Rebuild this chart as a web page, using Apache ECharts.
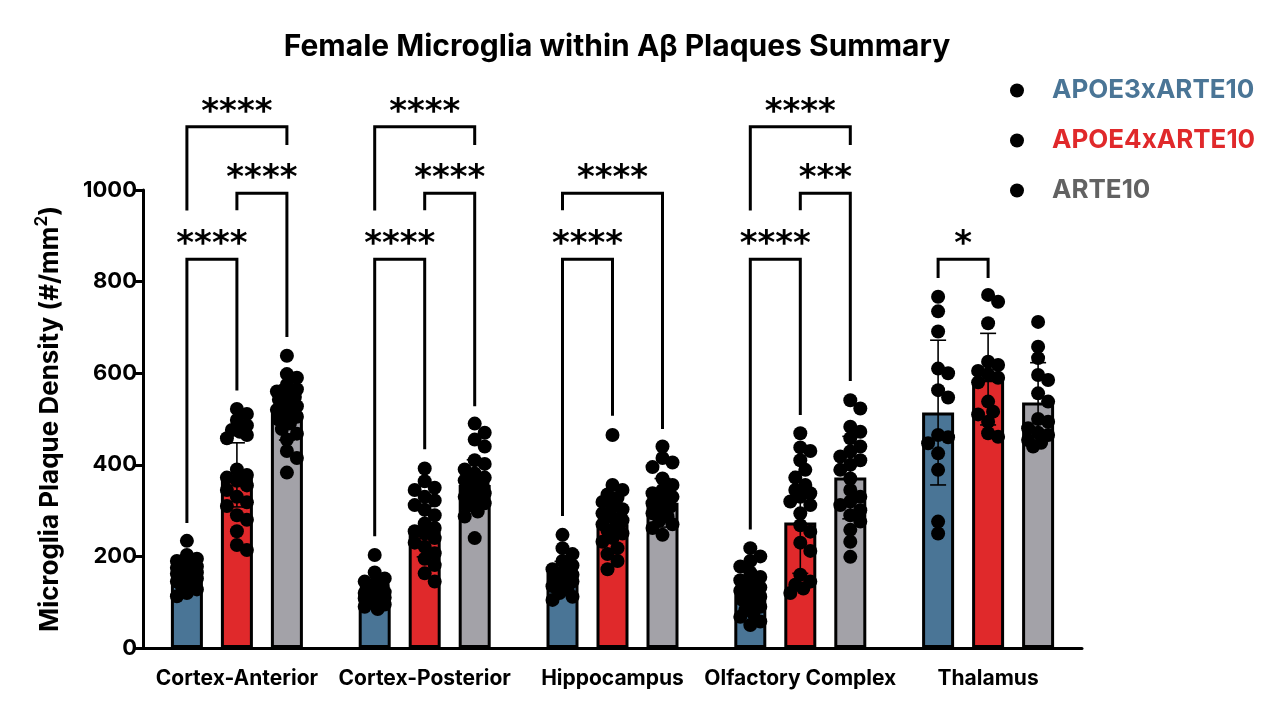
<!DOCTYPE html>
<html><head><meta charset="utf-8">
<script src="https://cdn.jsdelivr.net/npm/echarts@6/dist/echarts.min.js"></script>
<style>html,body{margin:0;padding:0;background:#fff}#c{width:1280px;height:713px}</style>
</head><body><div id="c"></div>
<script>
// ---------------- DATA ----------------
const categories = ['Cortex-Anterior', 'Cortex-Posterior', 'Hippocampus', 'Olfactory Complex', 'Thalamus'];
const seriesNames = ['APOE3xARTE10', 'APOE4xARTE10', 'ARTE10'];
const yTickValues = [0, 200, 400, 600, 800, 1000];

const apoe3Mean = [159, 125, 164, 121, 514];
const apoe4Mean = [378, 254, 270, 274, 587];
const arte10Mean = [514, 356, 317, 372, 536];

const apoe3SD = [30, 25, 25, 45, 158];
const apoe4SD = [70, 55, 55, 111, 100];
const arte10SD = [60, 55, 53, 90, 87];

const apoe3Dots = [
  [234, 203, 195, 190, 186, 182, 178, 175, 172, 168, 165, 162, 160, 156, 152, 148, 145, 140, 135, 128, 120, 113],
  [203, 165, 152, 145, 140, 135, 130, 128, 125, 122, 120, 118, 115, 112, 110, 108, 105, 100, 95, 90, 85],
  [247, 218, 205, 190, 180, 172, 165, 160, 155, 150, 145, 140, 135, 128, 120, 112, 105],
  [218, 200, 190, 178, 165, 155, 148, 140, 132, 125, 118, 112, 105, 98, 90, 83, 75, 68, 58, 50],
  [767, 735, 691, 610, 600, 563, 547, 465, 460, 447, 425, 389, 276, 250]
];
const apoe4Dots = [
  [522, 511, 498, 486, 476, 472, 465, 458, 390, 378, 372, 365, 355, 345, 330, 318, 310, 290, 280, 255, 225, 214],
  [392, 364, 350, 345, 330, 322, 312, 302, 290, 272, 262, 255, 250, 240, 230, 221, 207, 195, 181, 163, 145],
  [465, 356, 345, 335, 328, 319, 310, 303, 294, 285, 279, 270, 265, 256, 250, 240, 232, 218, 205, 190, 172],
  [469, 438, 430, 410, 389, 372, 356, 345, 338, 330, 320, 312, 294, 268, 254, 230, 212, 160, 145, 138, 130, 120],
  [771, 756, 709, 625, 618, 605, 598, 590, 580, 538, 516, 510, 494, 469, 461]
];
const arte10Dots = [
  [638, 598, 590, 575, 565, 560, 555, 548, 542, 535, 528, 520, 512, 505, 498, 490, 478, 468, 455, 430, 415, 383],
  [490, 470, 455, 440, 410, 402, 390, 381, 372, 366, 360, 355, 350, 345, 338, 330, 323, 316, 309, 298, 287, 240],
  [440, 415, 405, 395, 370, 356, 345, 338, 330, 323, 316, 309, 302, 294, 287, 279, 270, 262, 247],
  [541, 523, 483, 472, 458, 440, 429, 418, 410, 400, 389, 370, 345, 330, 320, 312, 301, 290, 276, 258, 232, 199],
  [712, 658, 633, 596, 585, 556, 538, 500, 494, 480, 470, 465, 454, 448, 440]
];

// significance brackets: [category, fromGroup, toGroup, level, fromLegBottom, toLegBottom]
const brackets = [
  [0, 0, 1, 849, 273, 562], [0, 1, 2, 993, 956, 679], [0, 0, 2, 1138, 955, 1098],
  [1, 0, 1, 849, 244, 434], [1, 1, 2, 993, 956, 528], [1, 0, 2, 1138, 955, 1098],
  [2, 0, 1, 849, 288, 507], [2, 0, 2, 993, 956, 478],
  [3, 0, 1, 849, 259, 509], [3, 1, 2, 993, 956, 583], [3, 0, 2, 1138, 955, 1098],
  [4, 0, 1, 849, 808, 808]
];
const bracketLabels = ['****', '****', '****', '****', '****', '****', '****', '****', '****', '***', '****', '*'];

// ---------------- STYLE / LAYOUT ----------------
const barColors = ['#4a7596', '#e0292b', '#a3a2a8'];
const legendColors = ['#4a7596', '#e0292b', '#626262'];
const FONT = 'Inter';
const GRID = { left: 143, top: 190, width: 939, height: 458 };
const BAR_W = 32, BAR_GAP_PX = 18;
const BAR_STEP = BAR_W + BAR_GAP_PX;
const DOT_D = 14;

const means = [apoe3Mean, apoe4Mean, arte10Mean];
const sds = [apoe3SD, apoe4SD, arte10SD];
const dots = [apoe3Dots, apoe4Dots, arte10Dots];

// beeswarm offsets (pixels) computed from values
function swarm(vals) {
  const pxPerUnit = GRID.height / 1000;
  const placed = [];
  const out = new Array(vals.length).fill(0);
  const order = vals.map((v, i) => i).sort((a, b) => vals[b] - vals[a]);
  const cands = [0, 5, -5, 10, -10, 3, -3, 8, -8];
  for (const i of order) {
    const y = vals[i] * pxPerUnit;
    let best = 0, bestScore = -1;
    for (const off of cands) {
      let mind = Infinity;
      for (const p of placed) {
        const d = Math.hypot(p[0] - off, p[1] - y);
        if (d < mind) mind = d;
      }
      if (mind >= DOT_D * 0.75) { best = off; break; }
      if (mind > bestScore) { bestScore = mind; best = off; }
    }
    placed.push([best, y]);
    out[i] = best;
  }
  return out;
}

const dotData = [];
for (let s = 0; s < 3; s++) {
  for (let c = 0; c < categories.length; c++) {
    const vals = dots[s][c];
    const j = swarm(vals);
    vals.forEach((v, k) => dotData.push([c, s, v, j[k]]));
  }
}
const errData = [];
for (let s = 0; s < 3; s++) for (let c = 0; c < categories.length; c++) errData.push([c, s, means[s][c], sds[s][c]]);

const chart = echarts.init(document.getElementById('c'), null, { renderer: 'canvas' });

const barSeries = seriesNames.map((name, s) => ({
  name, type: 'bar', data: means[s], barWidth: BAR_W, barGap: (BAR_GAP_PX / BAR_W * 100) + '%',
  itemStyle: { color: barColors[s], borderColor: '#000', borderWidth: 3 },
  z: 2, silent: true
}));

const option = {
  animation: false,
  backgroundColor: '#fff',
  title: {
    text: 'Female Microglia within A\u03B2 Plaques Summary',
    left: 612, top: 27, textAlign: 'center',
    textStyle: { fontFamily: FONT, fontWeight: 'bold', fontSize: 30, color: '#000' }
  },
  legend: {
    orient: 'vertical', left: 1005, top: 72, itemGap: 23, icon: 'circle',
    itemWidth: 60, itemHeight: 14,
    itemStyle: { borderWidth: 0 },
    data: seriesNames.map((n, s) => ({ name: n, itemStyle: { color: '#000', borderWidth: 0 }, textStyle: { color: legendColors[s] } })),
    textStyle: { fontFamily: FONT, fontWeight: 'bold', fontSize: 26, lineHeight: 27 },
    selectedMode: false
  },
  grid: GRID,
  xAxis: {
    type: 'category', data: categories,
    axisLine: { lineStyle: { color: '#000', width: 3 } },
    axisTick: { alignWithLabel: true, length: 9, lineStyle: { color: '#000', width: 3 } },
    axisLabel: { interval: 0, fontFamily: FONT, fontWeight: 'bold', fontSize: 21, color: '#000', margin: 20 }
  },
  yAxis: {
    type: 'value', min: 0, max: 1000, interval: 200,
    name: '{t|Microglia Plaque Density (#/mm}{sup|2}{t|)}', nameLocation: 'middle', nameGap: 80,
    nameTextStyle: {
      fontFamily: FONT, fontWeight: 'bold', fontSize: 26, color: '#000',
      rich: {
        t: { fontFamily: FONT, fontWeight: 'bold', fontSize: 26, color: '#000', lineHeight: 30, verticalAlign: 'bottom' },
        sup: { fontFamily: FONT, fontWeight: 'bold', fontSize: 17, color: '#000', lineHeight: 30, verticalAlign: 'top', padding: [0, 0, 10, 0] }
      }
    },
    axisLine: { show: true, lineStyle: { color: '#000', width: 3 } },
    axisTick: { show: true, length: 9, lineStyle: { color: '#000', width: 3 } },
    axisLabel: { fontFamily: FONT, fontWeight: 'bold', fontSize: 22, color: '#000', margin: 6,
      formatter: v => yTickValues.includes(v) ? String(v) : '' },
    splitLine: { show: false }
  },
  series: [
    ...barSeries,
    {
      type: 'custom', name: 'err', data: errData, z: 3, silent: true,
      renderItem(params, api) {
        const c = api.value(0), s = api.value(1), m = api.value(2), sd = api.value(3);
        const x = api.coord([c, m])[0] + (s - 1) * BAR_STEP;
        const yt = api.coord([c, m + sd])[1];
        const yb = api.coord([c, Math.max(0, m - sd)])[1];
        const st = { stroke: '#000', lineWidth: 1.6, fill: 'none' };
        return { type: 'group', children: [
          { type: 'line', shape: { x1: x, y1: yt, x2: x, y2: yb }, style: st },
          { type: 'line', shape: { x1: x - 8, y1: yt, x2: x + 8, y2: yt }, style: st },
          { type: 'line', shape: { x1: x - 8, y1: yb, x2: x + 8, y2: yb }, style: st }
        ] };
      }
    },
    {
      type: 'custom', name: 'dots', data: dotData, z: 4, silent: true,
      renderItem(params, api) {
        const c = api.value(0), s = api.value(1), v = api.value(2), j = api.value(3);
        const p = api.coord([c, v]);
        return { type: 'circle', shape: { cx: p[0] + (s - 1) * BAR_STEP + j, cy: p[1], r: DOT_D / 2 }, style: { fill: '#000' } };
      }
    },
    {
      type: 'custom', name: 'sig', data: brackets, z: 5, silent: true, clip: false,
      renderItem(params, api) {
        const c = api.value(0), a = api.value(1), b = api.value(2), lv = api.value(3), ba = api.value(4), bb = api.value(5);
        const cx = api.coord([c, lv])[0];
        const xa = cx + (a - 1) * BAR_STEP, xb = cx + (b - 1) * BAR_STEP;
        const y = api.coord([c, lv])[1];
        const ya = api.coord([c, ba])[1], yb = api.coord([c, bb])[1];
        const st = { stroke: '#000', lineWidth: 3, lineJoin: 'miter', fill: 'none' };
        return { type: 'group', children: [
          { type: 'polyline', shape: { points: [[xa, ya], [xa, y], [xb, y], [xb, yb]] }, style: st },
          { type: 'text', style: { text: bracketLabels[params.dataIndex], x: (xa + xb) / 2, y: y + 3,
            align: 'center', verticalAlign: 'bottom', fill: '#000',
            font: 'bold 34px "DejaVu Sans"' } }
        ] };
      }
    }
  ]
};
chart.setOption(option);
</script></body></html>
